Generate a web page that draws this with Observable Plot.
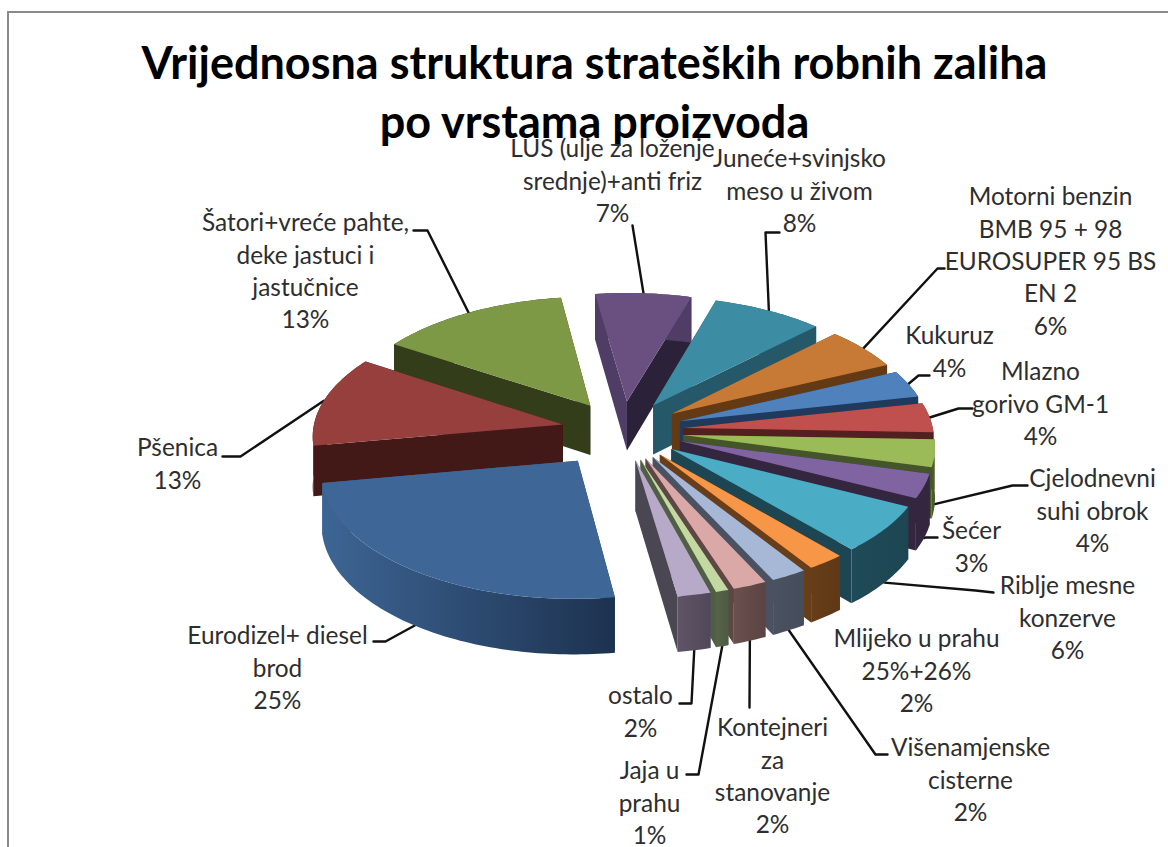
<!DOCTYPE html>
<html>
<head>
<meta charset="utf-8">
<script src="https://cdn.jsdelivr.net/npm/d3@7"></script>
<script src="https://cdn.jsdelivr.net/npm/@observablehq/plot@0.6"></script>
<style>
html,body{margin:0;padding:0;background:#fff;overflow:hidden}
#wrap{position:relative;width:1168px;height:847px}
#wrap svg{position:absolute;left:0;top:0;background:transparent}
#edge{position:absolute;left:7px;top:11px;right:-10px;bottom:-10px;border-left:2px solid #8a8a8a;border-top:2px solid #8a8a8a}
</style>
</head>
<body>
<div id="wrap"><div id="edge"></div></div>
<script>
const titleText = "Vrijednosna struktura strateških robnih zaliha\npo vrstama proizvoda";
const names = ["Juneće+svinjsko\nmeso u živom","Motorni benzin\nBMB 95 + 98\nEUROSUPER 95 BS\nEN 2","Kukuruz","Mlazno\ngorivo GM-1","Cjelodnevni\nsuhi obrok","Šećer","Riblje mesne\nkonzerve","Mlijeko u prahu\n25%+26%","Višenamjenske\ncisterne","Kontejneri\nza\nstanovanje","Jaja u\nprahu","ostalo","Eurodizel+ diesel\nbrod","Pšenica","Šatori+vreće pahte,\ndeke jastuci i\njastučnice","LUS (ulje za loženje\nsrednje)+anti friz"];
const values = [7.92,5.56,3.61,3.89,3.61,3.19,6.25,2.22,2.11,2.0,0.75,1.94,24.6,11.94,13.6,6.8];
const percentLabels = ["8%","6%","4%","4%","4%","3%","6%","2%","2%","2%","1%","2%","25%","13%","13%","7%"];
const explosions = [61,61,61,61,61,61,61,61,61,61,61,61,75,61,61,61];
const topColors = ["#3c8ca4","#c67a35","#4f81bd","#c0504d","#9bbb59","#8064a2","#4bacc6","#f79646","#a6b8d6","#d9a8a7","#c4d8a2","#b7a9c8","#3e6797","#963f3d","#7d9946","#6a5080"];
const wallStart = ["#25596a","#643a14","#1f3a5c","#52201e","#4a5a2a","#35263f","#1d4652","#683d19","#4a5262","#5e4645","#4f5e44","#5a5060","#24395a","#421917","#343d1a","#4f3d66"];
const wallEnd = ["#25596a","#643a14","#1f3a5c","#52201e","#45552a","#35263f","#1d4652","#683d19","#4a5262","#5e4645","#4f5e44","#4a4652","#3a6090","#421917","#343d1a","#2b2139"];
const arcLeft = ["#25596a","#643a14","#1f3a5c","#52201e","#4a5a2a","#35263f","#1f4a57","#683d19","#4a5262","#6a5150","#566548","#5f5466","#3d6594","#421917","#343d1a","#4f3d66"];
const arcRight = ["#25596a","#643a14","#1f3a5c","#52201e","#4a5a2a","#35263f","#1d4652","#603815","#454d5c","#5a4342","#4c5b42","#50485a","#1d3250","#421917","#343d1a","#4f3d66"];

// page placement of the text and of the leader's free end, in the same order as names
const labelSpots = [[799,144],[1050,182],[949,321],[1040,357],[1092,464],[971,516],[1067,571],[916,624],[970,733],[772,713],[649,756],[640,681],[277,621],[177,433],[305,208],[612,134]];
const leaderFree = [[[779,232],[765,232]],[[944,268],[937,268]],[[929,375],[918,375]],[[972,408],[958,408]],[[1027,485],[1012,485]],[[937,537],[925,537]],[[993,592],[975,590]],null,[[887,754],[875,754]],[[749,707]],[[686,774],[698,774]],[[679,703],[691,703]],[[373,641],[385,641]],[[222,456],[240,456]],[[413,230],[427,230]],[[632,225]]];

const W = 1168, H = 847;
const cx = 622, cy = 430, R = 250, tilt = 0.487, persp = 0.000324, depth = 50;
const startAngle = -73.5 * Math.PI / 180;
const total = d3.sum(values);
const ends = Array.from(d3.cumsum(values), v => startAngle + v / total * 2 * Math.PI);

const project = (X, Y, drop = 0) => {
  const f = 1 / (1 - persp * Y);
  return {x: cx + X * f, y: cy + tilt * Y * f + drop * f};
};
const slices = values.map((v, i) => {
  const a0 = i ? ends[i - 1] : startAngle, a1 = ends[i], mid = (a0 + a1) / 2;
  const ax = explosions[i] * Math.cos(mid), ay = explosions[i] * Math.sin(mid);
  const n = Math.max(2, Math.ceil((a1 - a0) / 0.02));
  const rim = d3.range(n + 1).map(k => {
    const a = a0 + (a1 - a0) * k / n;
    return [ax + R * Math.cos(a), ay + R * Math.sin(a)];
  });
  return {i, mid, ax, ay, rim};
});
const order = d3.sort(slices, s => Math.sin(s.mid));

const faces = [];
const addFace = (id, fill, pts) => pts.forEach(p => faces.push({id, fill, x: p.x, y: p.y}));
for (const s of order) {
  const {i, ax, ay, rim} = s;
  const first = rim[0], last = rim[rim.length - 1];
  addFace(`w0-${i}`, wallStart[i], [project(ax, ay), project(first[0], first[1]), project(first[0], first[1], depth), project(ax, ay, depth)]);
  addFace(`w1-${i}`, wallEnd[i], [project(ax, ay), project(last[0], last[1]), project(last[0], last[1], depth), project(ax, ay, depth)]);
  addFace(`a-${i}`, `url(#arc${i})`, [...rim.map(p => project(p[0], p[1])), ...rim.slice().reverse().map(p => project(p[0], p[1], depth))]);
  addFace(`t-${i}`, topColors[i], [project(ax, ay), ...rim.map(p => project(p[0], p[1]))]);
}

const leaders = [];
slices.forEach(s => {
  const free = leaderFree[s.i];
  if (!free) return;
  const ex = s.ax + R * Math.cos(s.mid), ey = s.ay + R * Math.sin(s.mid);
  const end = project(ex, ey, Math.sin(s.mid) > 0.05 ? depth : 0);
  [...free.map(p => ({x: p[0], y: p[1]})), end].forEach(p => leaders.push({id: s.i, x: p.x, y: p.y}));
});

const labels = names.map((n, i) => ({
  text: `${n}\n${percentLabels[i]}`,
  x: labelSpots[i][0],
  y: labelSpots[i][1]
}));

const chart = Plot.plot({
  width: W, height: H, margin: 0,
  x: {domain: [0, W], range: [0, W], axis: null},
  y: {domain: [0, H], range: [0, H], axis: null},
  color: {type: "identity"},
  style: {fontFamily: "Lato, sans-serif"},
  marks: [
    Plot.text([titleText], {
      x: () => 594, y: () => 37, text: d => d,
      fontFamily: "Lato", fontWeight: 700, fontSize: 45, lineHeight: 1.31,
      lineAnchor: "top", textAnchor: "middle", fill: "#000"
    }),
    Plot.line(leaders, {x: "x", y: "y", z: "id", stroke: "#111", strokeWidth: 2.4}),
    Plot.line(faces, {x: "x", y: "y", z: "id", fill: "fill", stroke: "none"}),
    Plot.text(labels, {
      x: "x", y: "y", text: "text",
      fontFamily: "Lato", fontSize: 24.4, lineHeight: 1.324,
      lineAnchor: "top", textAnchor: "middle", fill: "#2e2e2e"
    })
  ]
});

const ns = "http://www.w3.org/2000/svg";
const defs = document.createElementNS(ns, "defs");
values.forEach((_, i) => {
  const g = document.createElementNS(ns, "linearGradient");
  g.setAttribute("id", `arc${i}`);
  [[0, arcLeft[i]], [1, arcRight[i]]].forEach(([o, c]) => {
    const st = document.createElementNS(ns, "stop");
    st.setAttribute("offset", o);
    st.setAttribute("stop-color", c);
    g.appendChild(st);
  });
  defs.appendChild(g);
});
chart.insertBefore(defs, chart.firstChild);
document.getElementById("wrap").appendChild(chart);
</script>
</body>
</html>
